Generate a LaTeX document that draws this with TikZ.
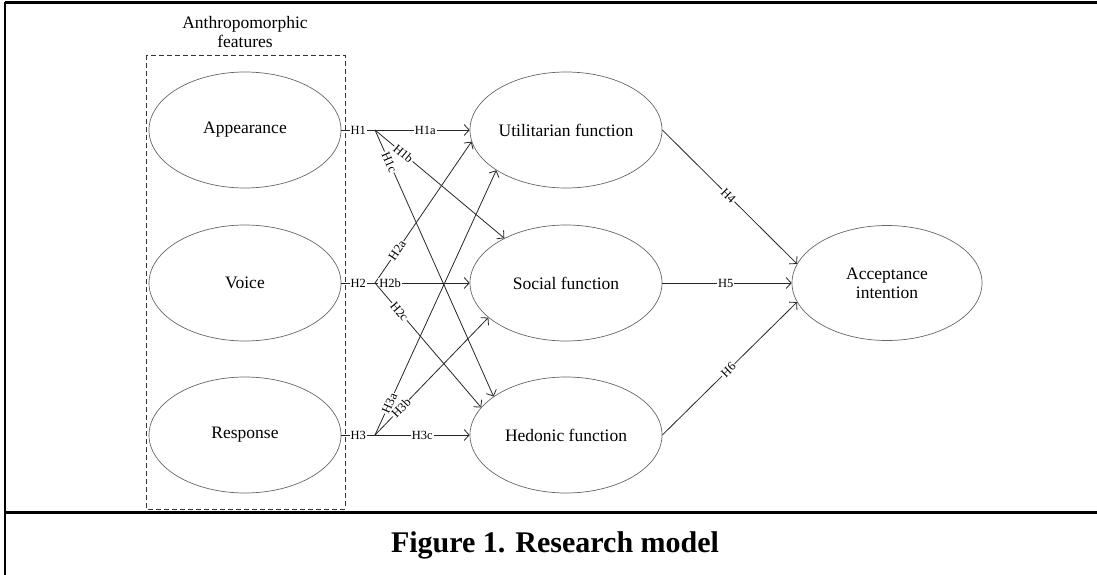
\documentclass[tikz,border=0pt]{standalone}
\usepackage{fontspec}
\setmainfont{Liberation Serif}
\usetikzlibrary{shapes.geometric, arrows.meta}

\begin{document}
\begin{tikzpicture}[x=1pt,y=-1pt]
	\tikzstyle{construct} = [ellipse,draw=black!60,line width=0.7pt,minimum width=192pt,minimum height=116pt,inner sep=0pt,align=center,font=\fontsize{17.5}{19}\selectfont]
	\tikzstyle{edge} = [-,line width=0.8pt,black!85]
	\tikzstyle{hyp} = [-{Straight Barb[length=5pt,width=11pt]},line width=0.8pt,black!85]
	\tikzstyle{hlabel} = [fill=white,inner sep=1pt,text=black,font=\fontsize{12.5}{12.5}\selectfont]
	\useasboundingbox (0,0) rectangle (1097,575);
	\node[construct] (app) at (245,130) {Appearance};
	\node[construct] (voi) at (245,283) {Voice};
	\node[construct] (res) at (245,435) {Response};
	\node[construct] (uti) at (566,130) {Utilitarian function};
	\node[construct] (soc) at (566,283) {Social function};
	\node[construct] (hed) at (566,435) {Hedonic function};
	\node[construct,minimum width=190pt,minimum height=115pt] (acc) at (887,283) {Acceptance\\intention};
	\node[align=center,font=\fontsize{17.5}{19}\selectfont] (feat) at (245,32) {Anthropomorphic\\features};
	\node[font=\bfseries\fontsize{30}{32}\selectfont] (caption) at (555,545) {Figure 1. Research model};
	\coordinate (j1) at (375,130);
	\coordinate (j2) at (375,283);
	\coordinate (j3) at (375,435);
	
	% frame and feature box
	\draw[line width=3pt] (5,3) -- (1097,3);
	\draw[line width=3pt] (5,512) -- (1097,512);
	\draw[line width=2.5pt] (5,2) -- (5,575);
	\draw[black!80,line width=0.7pt,dash pattern=on 5pt off 3pt] (146,55) rectangle (345,509);
	
	\draw[edge] (app) -- node[hlabel] {H1} (j1);
	\draw[edge] (voi) -- node[hlabel] {H2} (j2);
	\draw[edge] (res) -- node[hlabel] {H3} (j3);
	
	\draw[hyp] (j1) -- node[hlabel,pos=0.53] {H1a} (uti);
	\draw[hyp] (j1) -- node[hlabel,sloped,pos=0.22] {H1b} (soc.144.5);
	\draw[hyp] (j1) -- node[hlabel,sloped,pos=0.12] {H1c} (hed.152.5);
	\draw[hyp] (j2) -- node[hlabel,sloped,pos=0.23] {H2a} (uti.187.7);
	\draw[hyp] (j2) -- node[hlabel,pos=0.16] {H2b} (soc);
	\draw[hyp] (j2) -- node[hlabel,sloped,pos=0.23] {H2c} (hed.162);
	\draw[hyp] (j3) -- node[hlabel,sloped,pos=0.12] {H3a} (uti.210);
	\draw[hyp] (j3) -- node[hlabel,sloped,pos=0.23] {H3b} (soc.204.7);
	\draw[hyp] (j3) -- node[hlabel,pos=0.5] {H3c} (hed);
	
	\draw[hyp] (uti.east) -- node[hlabel,sloped,pos=0.49] {H4} (acc.168);
	\draw[hyp] (soc.east) -- node[hlabel,pos=0.49] {H5} (acc.west);
	\draw[hyp] (hed.east) -- node[hlabel,sloped,pos=0.49] {H6} (acc.192);
\end{tikzpicture}
\end{document}
